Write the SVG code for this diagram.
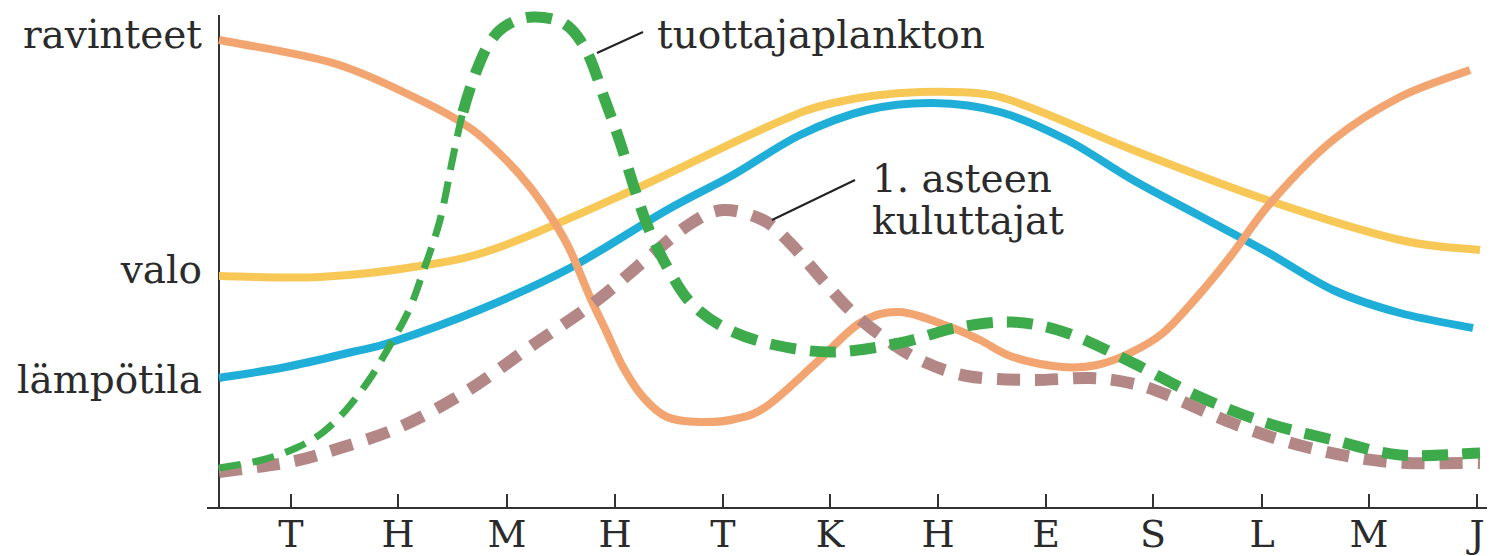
<svg xmlns="http://www.w3.org/2000/svg" width="1499" height="556" viewBox="0 0 1499 556">
<style>
.lbl{font-family:"DejaVu Serif","Liberation Serif",serif;font-size:39px;fill:#2b2b2b}
.mon{font-size:38px}
.axis{stroke:#333;stroke-width:2;fill:none}
.curve{fill:none;stroke-linecap:butt;stroke-linejoin:round}
.orange{stroke:#F2A571;stroke-width:8}
.yellow{stroke:#F7C855;stroke-width:8}
.blue{stroke:#1FAED8;stroke-width:8}
.green-thin{stroke:#3DAA4B;stroke-width:7;stroke-dasharray:22 12}
.green{stroke:#3DAA4B;stroke-width:11;stroke-dasharray:26 14}
.brown{stroke:#B48787;stroke-width:12;stroke-dasharray:23 15}
.leader{stroke:#222;stroke-width:2}
</style>
<rect width="1499" height="556" fill="#fff"/>
<g id="axes">
<line class="axis" x1="219" y1="15" x2="219" y2="508"/>
<line class="axis" x1="207" y1="508" x2="1487" y2="508"/>
<path class="axis" d="M291,494V508M398,494V508M507,494V508M615,494V508M723,494V508M830,494V508M938,494V508M1046,494V508M1153,494V508M1262,494V508M1369,494V508M1477,494V508"/>
</g>
<g id="month-labels" class="lbl mon" text-anchor="middle">
<text x="291" y="547">T</text>
<text x="398" y="547">H</text>
<text x="507" y="547">M</text>
<text x="615" y="547">H</text>
<text x="723" y="547">T</text>
<text x="830" y="547">K</text>
<text x="938" y="547">H</text>
<text x="1046" y="547">E</text>
<text x="1153" y="547">S</text>
<text x="1262" y="547">L</text>
<text x="1369" y="547">M</text>
<text x="1477" y="547">J</text>
</g>
<g id="connectors">
<path id="valo" class="curve yellow" d="M219,276 C235.8,276.2 286.5,278.7 320,277 C353.5,275.3 390,271 420,266 C450,261 464.5,259.7 500,247 C535.5,234.3 588.5,210 633,190 C677.5,170 733.7,141.5 767,127 C800.3,112.5 807.5,108.8 833,103 C858.5,97.2 892.2,93 920,92 C947.8,91 982.3,92.2 1000,97 C1035.5,106.7 1088.5,132.8 1133,150 C1177.5,167.2 1222.5,185 1267,200 C1311.5,215 1364.5,231.7 1400,240 C1435.5,248.3 1466.7,248.3 1480,250"/>
<path id="lampotila" class="curve blue" d="M219,378 C230.2,376.2 263.8,371.3 286,367 C308.2,362.7 334.3,356.2 352,352 C369.7,347.8 370.8,349 392,342 C413.2,335 449.3,322.3 479,310 C508.7,297.7 538.7,284.7 570,268 C601.3,251.3 639.8,225.5 667,210 C694.2,194.5 710.8,187.5 733,175 C755.2,162.5 777.7,145.8 800,135 C822.3,124.2 844.8,115.3 867,110 C889.2,104.7 910.8,102.7 933,103 C955.2,103.3 977.7,105.8 1000,112 C1022.3,118.2 1044.8,128.7 1067,140 C1089.2,151.3 1110.8,167.3 1133,180 C1155.2,192.7 1177.7,204 1200,216 C1222.3,228 1244.8,239.7 1267,252 C1289.2,264.3 1310.8,279.8 1333,290 C1355.2,300.2 1376.7,306.7 1400,313 C1423.3,319.3 1460.8,325.5 1473,328"/>
<path id="ravinteet" class="curve orange" d="M219,40 C238,43.8 299.5,53 333,63 C366.5,73 397.2,89.2 420,100 C442.8,110.8 456.2,118.5 470,128 C483.8,137.5 493,147.2 503,157 C513,166.8 521.7,176.5 530,187 C538.3,197.5 546.3,209.5 553,220 C559.7,230.5 563.8,237.2 570,250 C576.2,262.8 583.8,283.2 590,297 C596.2,310.8 601.5,321.3 607,333 C612.5,344.7 617,356.3 623,367 C629,377.7 635.7,388.7 643,397 C650.3,405.3 657.5,412.8 667,417 C676.5,421.2 688.7,421.7 700,422 C711.3,422.3 723.8,421.7 735,419 C746.2,416.3 753.3,415.5 767,406 C780.7,396.5 801.5,375.8 817,362 C832.5,348.2 846.2,331.3 860,323 C873.8,314.7 885,311.3 900,312 C915,312.7 936.7,322.3 950,327 C963.3,331.7 969.5,335 980,340 C990.5,345 999.2,352.5 1013,357 C1026.8,361.5 1049,365.7 1063,367 C1077,368.3 1085.8,367.3 1097,365 C1108.2,362.7 1119,358.3 1130,353 C1141,347.7 1151.8,342.3 1163,333 C1174.2,323.7 1185.8,309.7 1197,297 C1208.2,284.3 1217.3,273.2 1230,257 C1242.7,240.8 1255.8,219.5 1273,200 C1290.2,180.5 1311.8,157.2 1333,140 C1354.2,122.8 1377.2,108.7 1400,97 C1422.8,85.3 1458.3,74.5 1470,70"/>
<path id="kuluttajat" class="curve brown" d="M219,472 C230.8,470.3 269.8,466 290,462 C310.2,458 321.7,453.8 340,448 C358.3,442.2 378.8,436.5 400,427 C421.2,417.5 445.3,404.3 467,391 C488.7,377.7 508.7,361.8 530,347 C551.3,332.2 575,317.2 595,302 C615,286.8 634.2,269 650,256 C665.8,243 677.8,231.7 690,224 C702.2,216.3 710.8,210.7 723,210 C735.2,209.3 751.8,214.5 763,220 C774.2,225.5 780.5,233.5 790,243 C799.5,252.5 810,265.8 820,277 C830,288.2 839.5,300 850,310 C860.5,320 871.3,328.7 883,337 C894.7,345.3 906,353.5 920,360 C934,366.5 948.7,372.7 967,376 C985.3,379.3 1009.5,379.7 1030,380 C1050.5,380.3 1073.3,377.5 1090,378 C1106.7,378.5 1117.5,380.3 1130,383 C1142.5,385.7 1147.2,387 1165,394 C1182.8,401 1212.8,416 1237,425 C1261.2,434 1284.5,441.8 1310,448 C1335.5,454.2 1361.7,459.5 1390,462 C1418.3,464.5 1465,462.8 1480,463"/>
<path id="tuottaja-rise" class="curve green-thin" d="M219,468 C226.2,466.7 249.2,463.3 262,460 C274.8,456.7 286,452.5 296,448 C306,443.5 313.7,439.3 322,433 C330.3,426.7 338.2,418.8 346,410 C353.8,401.2 361.8,390.5 369,380 C376.2,369.5 382.3,358.7 389,347 C395.7,335.3 403.3,322.5 409,310 C414.7,297.5 417.8,287 423,272 C428.2,257 435,239.2 440,220 C445,200.8 449.2,175 453,157 C456.8,139 459.2,126.2 463,112"/>
<path id="tuottaja" class="curve green" d="M463,112 C466.8,97.8 471.5,83.7 476,72 C480.5,60.3 484.8,49.8 490,42 C495.2,34.2 499.8,29.2 507,25 C514.2,20.8 523.3,17.2 533,17 C542.7,16.8 556,18.2 565,24 C574,29.8 580.3,39.3 587,52 C593.7,64.7 599.5,85 605,100 C610.5,115 615,127 620,142 C625,157 630,175 635,190 C640,205 644.2,218.3 650,232 C655.8,245.7 663,260 670,272 C677,284 682.5,294.5 692,304 C701.5,313.5 713.2,322.2 727,329 C740.8,335.8 757.3,341.2 775,345 C792.7,348.8 812.2,352.3 833,352 C853.8,351.7 879.7,347 900,343 C920.3,339 936.3,331.5 955,328 C973.7,324.5 993.3,321.2 1012,322 C1030.7,322.8 1046.8,326.2 1067,333 C1087.2,339.8 1110.8,352.3 1133,363 C1155.2,373.7 1177.7,387 1200,397 C1222.3,407 1244.8,415.8 1267,423 C1289.2,430.2 1310.8,434.7 1333,440 C1355.2,445.3 1375.5,452.8 1400,455 C1424.5,457.2 1466.7,453.3 1480,453"/>
<line class="leader" x1="597" y1="53" x2="643" y2="32"/>
<line class="leader" x1="772" y1="220" x2="855" y2="180"/>
</g>
<g id="label-ravinteet" class="lbl" text-anchor="end"><text x="202" y="48">ravinteet</text></g>
<g id="label-valo" class="lbl" text-anchor="end"><text x="202" y="283">valo</text></g>
<g id="label-lampotila" class="lbl" text-anchor="end"><text x="202" y="393">lämpötila</text></g>
<g id="label-tuottajaplankton" class="lbl"><text x="657" y="48">tuottajaplankton</text></g>
<g id="label-kuluttajat" class="lbl"><text x="872" y="192">1. asteen</text><text x="872" y="234">kuluttajat</text></g>
</svg>
